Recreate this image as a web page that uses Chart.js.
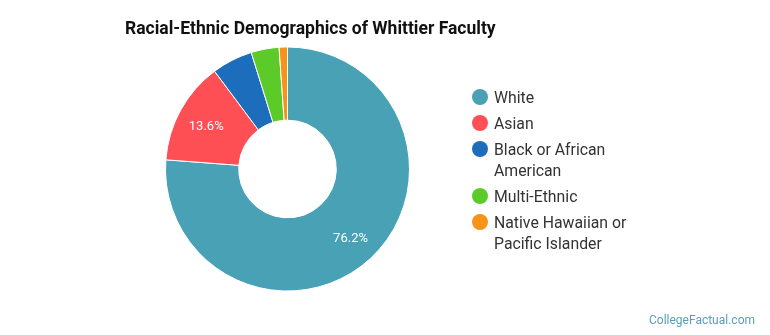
<!DOCTYPE html>
<html>
<head>
<meta charset="utf-8">
<script src="https://cdn.jsdelivr.net/npm/chart.js@4/dist/chart.umd.min.js"></script>
<style>
    html, body { margin: 0; padding: 0; background: #ffffff; }
    body { width: 770px; height: 335px; position: relative; overflow: hidden; font-family: Roboto, "Noto Sans", sans-serif; }
    #chart-box { position: absolute; left: 0; top: 0; width: 770px; height: 335px; }
    #title { position: absolute; left: 125px; top: 18px; font-size: 17.5px; font-weight: bold; color: #111111; white-space: nowrap; }
    #legend { position: absolute; left: 472px; top: 87px; list-style: none; margin: 0; padding: 0; }
    #legend li { position: relative; padding-left: 22px; width: 140px; font-size: 15.8px; line-height: 21px; color: #333333; margin-bottom: 5px; }
    #legend li span { position: absolute; left: 0; top: 2px; width: 16px; height: 16px; border-radius: 50%; }
    #footer { position: absolute; right: 15px; top: 313px; font-size: 12px; color: #5a9fb6; }
</style>
</head>
<body>
<div id="chart-box"><canvas id="raceChart"></canvas></div>
<div id="title">Racial-Ethnic Demographics of Whittier Faculty</div>
<ul id="legend"></ul>
<div id="footer">CollegeFactual.com</div>
<script>
var categories = ['White', 'Asian', 'Black or African American', 'Multi-Ethnic', 'Native Hawaiian or Pacific Islander'];
var percentages = [76.2, 13.6, 5.4, 3.7, 1.1];
var sliceColors = ['#48a1b5', '#fe4f55', '#1c6ebd', '#5ccb29', '#f8931a'];

var sliceLabels = {
    id: 'sliceLabels',
    afterDatasetsDraw: function(chart) {
        var ctx = chart.ctx;
        var meta = chart.getDatasetMeta(0);
        ctx.save();
        ctx.font = '13px Roboto, sans-serif';
        ctx.fillStyle = '#ffffff';
        ctx.textAlign = 'center';
        ctx.textBaseline = 'middle';
        meta.data.forEach(function(arc, i) {
            var value = percentages[i];
            if (value < 10) return;
            var mid = (arc.startAngle + arc.endAngle) / 2;
            var r = arc.innerRadius + (arc.outerRadius - arc.innerRadius) * 0.6;
            ctx.fillText(value.toFixed(1) + '%', arc.x + Math.cos(mid) * r, arc.y + Math.sin(mid) * r + 2);
        });
        ctx.restore();
    }
};

function buildLegend() {
    var ul = document.getElementById('legend');
    categories.forEach(function(name, i) {
        var li = document.createElement('li');
        li.innerHTML = '<span style="background:' + sliceColors[i] + '"></span>' + name;
        ul.appendChild(li);
    });
}

function buildChart() {
    var ctx = document.getElementById('raceChart').getContext('2d');
    new Chart(ctx, {
        type: 'doughnut',
        data: {
            labels: categories,
            datasets: [{
                data: percentages,
                backgroundColor: sliceColors,
                borderColor: '#ffffff',
                borderWidth: 1
            }]
        },
        options: {
            responsive: true,
            maintainAspectRatio: false,
            animation: false,
            cutout: '40%',
            layout: {
                padding: { left: 165, right: 360, top: 46, bottom: 43 }
            },
            plugins: {
                legend: { display: false },
                tooltip: { enabled: false }
            }
        },
        plugins: [sliceLabels]
    });
}

buildLegend();
buildChart();
</script>
</body>
</html>
